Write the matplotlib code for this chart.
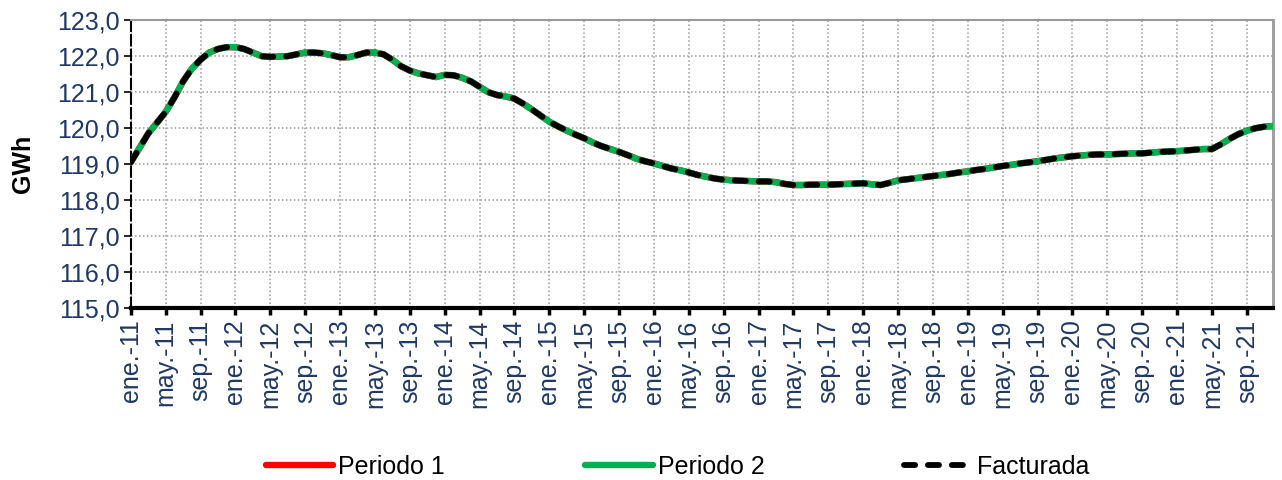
import numpy as np
import matplotlib.pyplot as plt
from matplotlib.ticker import FuncFormatter

plt.rcParams['font.family'] = ['Liberation Sans', 'DejaVu Sans']

# Monthly values, ene.-11 .. dic.-21 (GWh)
facturada = [
    119.05, 119.45, 119.85, 120.15, 120.45, 120.85, 121.30, 121.65, 121.90, 122.10, 122.20, 122.25,  # 2011
    122.25, 122.20, 122.10, 122.00, 121.98, 121.99, 122.00, 122.05, 122.10, 122.10, 122.08, 122.03,  # 2012
    121.97, 121.97, 122.03, 122.10, 122.10, 122.05, 121.90, 121.72, 121.60, 121.52, 121.47, 121.42,  # 2013
    121.48, 121.47, 121.40, 121.30, 121.15, 121.00, 120.92, 120.88, 120.82, 120.68, 120.52, 120.35,  # 2014
    120.18, 120.05, 119.93, 119.82, 119.72, 119.60, 119.50, 119.42, 119.34, 119.25, 119.15, 119.08,  # 2015
    119.02, 118.95, 118.88, 118.83, 118.77, 118.70, 118.65, 118.60, 118.57, 118.55, 118.54, 118.53,  # 2016
    118.52, 118.52, 118.50, 118.45, 118.42, 118.42, 118.43, 118.43, 118.43, 118.44, 118.45, 118.46,  # 2017
    118.47, 118.44, 118.42, 118.48, 118.55, 118.58, 118.61, 118.64, 118.67, 118.70, 118.73, 118.77,  # 2018
    118.80, 118.84, 118.87, 118.91, 118.95, 118.98, 119.02, 119.05, 119.08, 119.12, 119.16, 119.19,  # 2019
    119.22, 119.24, 119.26, 119.27, 119.27, 119.28, 119.29, 119.30, 119.30, 119.32, 119.34, 119.35,  # 2020
    119.36, 119.38, 119.40, 119.42, 119.42, 119.55, 119.70, 119.83, 119.93, 120.00, 120.04, 120.06,  # 2021
]
periodo_1 = list(facturada)
periodo_2 = list(facturada)

month_abbr = ['ene.', 'feb.', 'mar.', 'abr.', 'may.', 'jun.',
              'jul.', 'ago.', 'sep.', 'oct.', 'nov.', 'dic.']
years = list(range(11, 22))
labels = [f'{m}-{y}' for y in years for m in month_abbr]

x = np.arange(len(facturada))
navy = '#1F3864'
fs = 18

fig = plt.figure(figsize=(12.82, 4.8), dpi=100)
ax = fig.add_axes([0.102, 0.358, 0.891, 0.600])

ax.plot(x, periodo_1, color='#FF0000', lw=4.6, solid_capstyle='round', label='Periodo 1', zorder=3)
ax.plot(x, periodo_2, color='#00B050', lw=4.6, solid_capstyle='round', label='Periodo 2', zorder=4)
ax.plot(x, facturada, color='black', lw=4.2, linestyle=(0, (1.9, 2.2)),
        dash_capstyle='round', label='Facturada', zorder=5)

ax.set_xlim(0, len(facturada) - 1)
ax.set_ylim(115, 123)
ax.set_yticks(range(115, 124))
ax.yaxis.set_major_formatter(FuncFormatter(lambda v, p: f'{v:.1f}'.replace('.', ',')))

tick_pos = x[::4]
ax.set_xticks(tick_pos)
ax.set_xticklabels([labels[i] for i in tick_pos], rotation=90)

ax.tick_params(axis='x', colors='black', labelcolor=navy, labelsize=fs,
               length=5, width=2.5, direction='out', pad=3)
ax.tick_params(axis='y', colors='black', labelcolor=navy, labelsize=fs,
               length=5, width=1.2, direction='out', pad=3)

ax.grid(True, color='#999999', linestyle=(0, (1, 1.6)), linewidth=1.1)
ax.set_axisbelow(True)

ax.spines['bottom'].set_color('black')
ax.spines['bottom'].set_linewidth(3)
ax.spines['top'].set_color('#999999')
ax.spines['top'].set_linewidth(1.5)
ax.spines['right'].set_color('#999999')
ax.spines['right'].set_linewidth(2)
ax.spines['left'].set_color('black')
ax.spines['left'].set_linewidth(1.5)
ax.spines['left'].set_linestyle((0, (5, 2)))

ax.set_ylabel('GWh', fontsize=fs, fontweight='bold', color='black', labelpad=16)

leg = fig.legend(loc='center', bbox_to_anchor=(0.5285, 0.027), ncol=3, frameon=False,
                 fontsize=fs, handlelength=2.7, handletextpad=0.2, columnspacing=5.6)
for t in leg.get_texts():
    t.set_color('black')

fig.savefig('out.png', dpi=100)
